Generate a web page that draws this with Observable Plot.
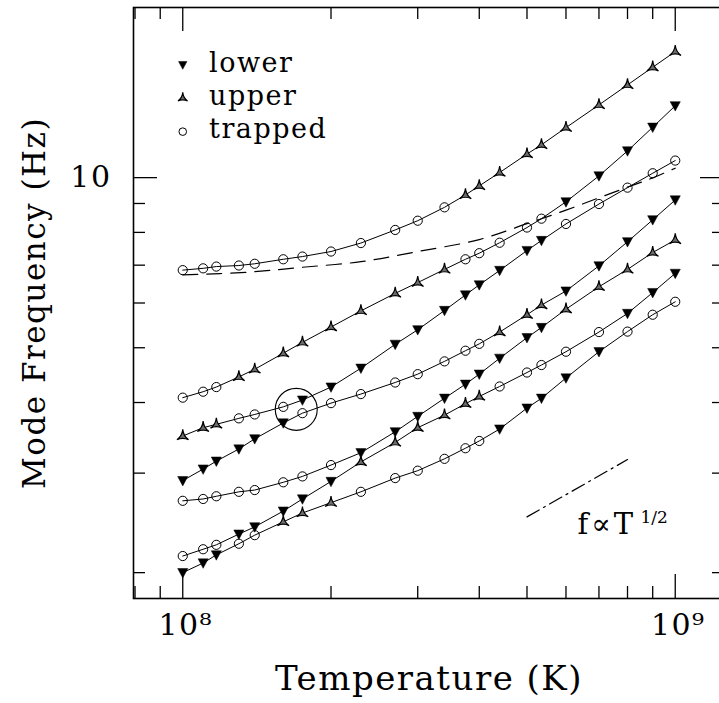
<!DOCTYPE html>
<html><head><meta charset="utf-8">
<script src="https://cdn.jsdelivr.net/npm/d3@7"></script>
<script src="https://cdn.jsdelivr.net/npm/@observablehq/plot@0.6"></script>
<style>
html,body{margin:0;padding:0;overflow:hidden;background:#fff;}
#chart svg{max-width:none !important;}
svg text{letter-spacing:1.5px;}
</style></head><body><div id="chart"></div>
<script>
// Temperatures (K) at which the modes were computed
const temperature = [1.0e8, 1.1e8, 1.17e8, 1.3e8, 1.4e8, 1.6e8, 1.75e8, 2.0e8, 2.3e8, 2.7e8, 3.0e8,
  3.4e8, 3.75e8, 4.0e8, 4.4e8, 5.0e8, 5.35e8, 6.0e8, 7.0e8, 8.0e8, 9.0e8, 1.0e9];

// Mode frequency (Hz) along each curve; mode character per point: l = lower, u = upper, c = trapped
const curve1 = [6.86, 6.91, 6.96, 6.99, 7.04, 7.17, 7.25, 7.40, 7.66, 8.08, 8.39, 8.86, 9.32, 9.67, 10.21, 11.01, 11.43, 12.26, 13.45, 14.59, 15.68, 16.71];
const curve1Modes = "ccccccccccccuuuuuuuuuu";
const curve2 = [4.08, 4.18, 4.26, 4.44, 4.58, 4.89, 5.11, 5.44, 5.81, 6.24, 6.52, 6.88, 7.17, 7.35, 7.67, 8.16, 8.46, 9.06, 10.07, 11.15, 12.28, 13.40];
const curve2Modes = "cccuuuuuuuuuccccclllll";
const curve3 = [3.49, 3.61, 3.66, 3.75, 3.81, 3.93, 4.04, 4.26, 4.60, 5.07, 5.38, 5.82, 6.20, 6.46, 6.85, 7.43, 7.74, 8.28, 8.98, 9.60, 10.18, 10.72];
const curve3Modes = "uuuccclllllllllllccccc";
const curve4 = [2.91, 3.05, 3.15, 3.31, 3.45, 3.68, 3.83, 3.99, 4.14, 4.34, 4.49, 4.73, 4.94, 5.08, 5.33, 5.72, 5.95, 6.30, 6.98, 7.70, 8.42, 9.13];
const curve4Modes = "llllllccccccccuuulllll";
const curve5 = [2.68, 2.70, 2.73, 2.78, 2.80, 2.89, 2.96, 3.10, 3.26, 3.55, 3.78, 4.07, 4.31, 4.49, 4.79, 5.21, 5.43, 5.85, 6.41, 6.88, 7.37, 7.76];
const curve5Modes = "ccccccccllllllllluuuuu";
const curve6 = [2.14, 2.20, 2.24, 2.34, 2.41, 2.57, 2.70, 2.90, 3.14, 3.40, 3.61, 3.80, 3.98, 4.10, 4.27, 4.52, 4.66, 4.92, 5.33, 5.75, 6.26, 6.77];
const curve6Modes = "cccllllluuuuuuccccclll";
const curve7 = [2.00, 2.08, 2.15, 2.25, 2.33, 2.46, 2.55, 2.66, 2.78, 2.94, 3.03, 3.18, 3.32, 3.42, 3.59, 3.91, 4.07, 4.42, 4.92, 5.34, 5.72, 6.03];
const curve7Modes = "lllccuuuccccccllllllccc".slice(0, 19) + "ccc";

// Dashed reference curve
const dashedT = [1.0e8, 1.35e8, 1.75e8, 2.3e8, 3.0e8, 4.0e8, 5.0e8, 6.0e8, 7.0e8, 8.0e8, 9.0e8, 1.0e9];
const dashedF = [6.73, 6.80, 6.94, 7.10, 7.40, 7.77, 8.29, 8.76, 9.21, 9.62, 9.99, 10.39];

// f ∝ T^1/2 guide
const slopeT = [5.0e8, 8.0e8];
const slopeF = [2.51, 3.17];

// Highlight ring
const highlightT = [1.70e8];
const highlightF = [3.89];

// Legend
const legendLabels = ["lower", "upper", "trapped"];
const legendModes = ["l", "u", "c"];
const legendMarkerT = 1.0e8;
const legendTextT = 1.131e8;
const legendF = [15.83, 13.84, 12.06];

// Annotation
const noteMain = {T: 6.33e8, f: 2.434, text: "f∝T"};
const noteSup = {T: 8.50e8, f: 2.50, text: "1/2"};

// Ticks
const xMajorTicks = [1e8, 1e9];
const xTickLabels = ["10⁸", "10⁹"];
const xMinorTicks = [8e7, 9e7, 2e8, 3e8, 4e8, 5e8, 6e8, 7e8, 8e8, 9e8];
const yMajorTicks = [10];
const yTickLabels = ["10"];
const yMinorTicks = [2, 3, 4, 5, 6, 7, 8, 9];
const xLabel = "Temperature (K)";
const yLabel = "Mode Frequency (Hz)";

// ---- build ----
const curves = [curve1, curve2, curve3, curve4, curve5, curve6, curve7];
const modes = [curve1Modes, curve2Modes, curve3Modes, curve4Modes, curve5Modes, curve6Modes, curve7Modes];
const points = curves.flatMap((vals, k) => vals.map((f, i) => ({curve: k, T: temperature[i], f, mode: modes[k][i]})));
const dashed = dashedT.map((T, i) => ({T, f: dashedF[i]}));
const slope = slopeT.map((T, i) => ({T, f: slopeF[i]}));
const highlight = highlightT.map((T, i) => ({T, f: highlightF[i]}));
const legend = legendLabels.map((label, i) => ({label, mode: legendModes[i], f: legendF[i]}));

const symLower = {draw(ctx, size) {
  const r = Math.sqrt(size / Math.PI);
  ctx.moveTo(-1.1 * r, -0.9 * r); ctx.lineTo(1.1 * r, -0.9 * r); ctx.lineTo(0, 1.15 * r); ctx.closePath();
}};
const symUpper = {draw(ctx, size) {
  const r = Math.sqrt(size / Math.PI);
  ctx.moveTo(0, -1.3 * r);
  ctx.quadraticCurveTo(0.12 * r, 0.02 * r, 1.15 * r, 0.75 * r);
  ctx.quadraticCurveTo(0, 0.18 * r, -1.15 * r, 0.75 * r);
  ctx.quadraticCurveTo(-0.12 * r, 0.02 * r, 0, -1.3 * r);
  ctx.closePath();
}};

const FW = 591, FH = 591, MAJ = 24, MIN = 12;
const dotsFor = (data, x, r) => [
  Plot.dot(data.filter(d => d.mode === "l"), {x, y: "f", r, symbol: symLower, fill: "black", stroke: "black", strokeWidth: 0.5}),
  Plot.dot(data.filter(d => d.mode === "u"), {x, y: "f", r: r * 1.1, symbol: symUpper, fill: "#6e6e6e", stroke: "black", strokeWidth: 1.2}),
  Plot.dot(data.filter(d => d.mode === "c"), {x, y: "f", r, fill: "none", stroke: "black", strokeWidth: 1})
];

const chart = Plot.plot({
  width: 730, height: 703,
  marginLeft: 133, marginRight: 6, marginTop: 7, marginBottom: 105,
  x: {type: "log", domain: [7.943e7, 1.259e9], axis: null},
  y: {type: "log", domain: [1.8, 20], axis: null},
  style: {fontFamily: "'DejaVu Serif', serif", background: "white", color: "black", overflow: "visible", maxWidth: "none"},
  marks: [
    Plot.line(points, {x: "T", y: "f", z: "curve", stroke: "black", strokeWidth: 1}),
    Plot.line(dashed, {x: "T", y: "f", stroke: "black", strokeWidth: 1.2, strokeDasharray: "15,9", curve: "catmull-rom"}),
    Plot.line(slope, {x: "T", y: "f", stroke: "black", strokeWidth: 1.2, strokeDasharray: "14,5,2,5"}),
    ...dotsFor(points, "T", 4.6),
    Plot.dot(highlight, {x: "T", y: "f", r: 21, stroke: "black", fill: "none", strokeWidth: 1.1}),
    // legend
    ...dotsFor(legend, () => legendMarkerT, 3.8),
    Plot.text(legend, {x: () => legendTextT, y: "f", text: "label", textAnchor: "start", fontSize: 27, dy: -2, fill: "black"}),
    // annotation
    Plot.text([noteMain], {x: "T", y: "f", text: "text", textAnchor: "start", fontSize: 29, fill: "black"}),
    Plot.text([noteSup], {x: "T", y: "f", text: "text", textAnchor: "start", fontSize: 17, fill: "black"}),
    // ticks (inward on all four sides)
    Plot.ruleX(xMajorTicks, {insetTop: FH - MAJ, strokeWidth: 1.3}),
    Plot.ruleX(xMinorTicks, {insetTop: FH - MIN, strokeWidth: 1.3}),
    Plot.ruleX(xMajorTicks, {insetBottom: FH - MAJ, strokeWidth: 1.3}),
    Plot.ruleX(xMinorTicks, {insetBottom: FH - MIN, strokeWidth: 1.3}),
    Plot.ruleY(yMajorTicks, {insetRight: FW - MAJ, strokeWidth: 1.3}),
    Plot.ruleY(yMinorTicks, {insetRight: FW - MIN, strokeWidth: 1.3}),
    Plot.ruleY(yMajorTicks, {insetLeft: FW - MAJ, strokeWidth: 1.3}),
    Plot.ruleY(yMinorTicks, {insetLeft: FW - MIN, strokeWidth: 1.3}),
    Plot.frame({stroke: "black", strokeWidth: 1.6}),
    // tick labels
    Plot.text(xMajorTicks, {x: d => d, text: (d, i) => xTickLabels[i], frameAnchor: "bottom", dy: 36, dx: 3, fontSize: 30, fill: "black"}),
    Plot.text(yMajorTicks, {y: d => d, text: (d, i) => yTickLabels[i], frameAnchor: "left", textAnchor: "end", dx: -22, fontSize: 30, fill: "black"}),
    // axis labels
    Plot.text([xLabel], {frameAnchor: "bottom", textAnchor: "middle", dy: 91, fontSize: 34, fill: "black"}),
    Plot.text([yLabel], {frameAnchor: "left", textAnchor: "middle", rotate: -90, dx: -98.5, fontSize: 31, fill: "black"})
  ]
});
chart.querySelectorAll("text").forEach(t => {
  if (t.textContent === "f∝T") t.style.letterSpacing = "3px";
  if (t.textContent === "1/2") t.style.letterSpacing = "0px";
});
document.getElementById("chart").appendChild(chart);
</script></body></html>
